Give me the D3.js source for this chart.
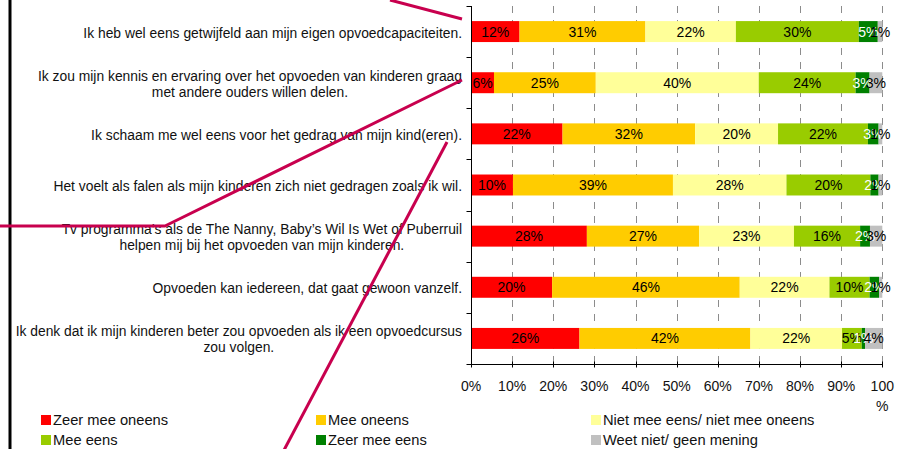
<!DOCTYPE html>
<html>
<head>
<meta charset="utf-8">
<script src="https://cdn.jsdelivr.net/npm/d3@7"></script>
<style>
  html, body { margin: 0; padding: 0; background: #fff; }
  svg { display: block; font-family: "Liberation Sans", Arial, sans-serif; }
</style>
</head>
<body>
<svg id="chart" width="902" height="449"></svg>
<script>
// ---------------- data ----------------
const categories = [
  "Ik heb wel eens getwijfeld aan mijn eigen opvoedcapaciteiten.",
  "Ik zou mijn kennis en ervaring over het opvoeden van kinderen graag\nmet andere ouders willen delen.",
  "Ik schaam me wel eens voor het gedrag van mijn kind(eren).",
  "Het voelt als falen als mijn kinderen zich niet gedragen zoals ik wil.",
  "Tv programma’s als de The Nanny, Baby’s Wil Is Wet of Puberruil\nhelpen mij bij het opvoeden van mijn kinderen.",
  "Opvoeden kan iedereen, dat gaat gewoon vanzelf.",
  "Ik denk dat ik mijn kinderen beter zou opvoeden als ik een opvoedcursus\nzou volgen."
];
const seriesNames = [
  "Zeer mee oneens", "Mee oneens", "Niet mee eens/ niet mee oneens",
  "Mee eens", "Zeer mee eens", "Weet niet/ geen mening"
];
const zeerMeeOneens = [11.8, 5.6, 22.3, 10.2, 28.2, 19.8, 26.4];
const meeOneens     = [30.6, 24.8, 32.3, 38.9, 27.3, 45.8, 41.6];
const neutraal      = [22.0, 39.7, 20.2, 27.6, 23.1, 21.9, 22.3];
const meeEens       = [29.9, 23.6, 21.9, 20.4, 16.1, 9.8, 4.8];
const zeerMeeEens   = [4.6, 3.4, 2.6, 2.0, 2.4, 2.3, 0.8];
const weetNiet      = [1.1, 3.1, 0.9, 0.9, 3.0, 0.8, 4.2];
const seriesColors = ["#FF0000", "#FFCC00", "#FFFF99", "#99CC00", "#008000", "#C0C0C0"];
const labelColors  = ["#000", "#000", "#000", "#000", "#fff", "#000"];
const tickValues = [0, 0.1, 0.2, 0.3, 0.4, 0.5, 0.6, 0.7, 0.8, 0.9, 1.0];
const tickLabels = ["0%", "10%", "20%", "30%", "40%", "50%", "60%", "70%", "80%", "90%", "100 %"];

// --------------- build ----------------
const seriesValues = [zeerMeeOneens, meeOneens, neutraal, meeEens, zeerMeeEens, weetNiet];
const keys = seriesNames;
const rows = categories.map((c, i) => {
  const r = { cat: c };
  keys.forEach((k, j) => r[k] = seriesValues[j][i]);
  return r;
});
const stacked = d3.stack().keys(keys).offset(d3.stackOffsetExpand)(rows);

const svg = d3.select("#chart");
const plot = { left: 471, right: 882.3, top: 6, bottom: 364 };

const x = d3.scaleLinear().domain([0, 1]).range([plot.left, plot.right]);
const y = d3.scaleBand().domain(categories).range([plot.top, plot.bottom])
  .paddingInner(0.59).paddingOuter(0.295);
const step = y.step();

// left decorative vertical rule
svg.append("line").attr("x1", 10).attr("x2", 10).attr("y1", 0).attr("y2", 449)
  .attr("stroke", "#000").attr("stroke-width", 3);

// gridlines
svg.append("g").selectAll("line").data(tickValues.slice(1)).join("line")
  .attr("x1", d => Math.round(x(d)) + 0.5).attr("x2", d => Math.round(x(d)) + 0.5)
  .attr("y1", plot.top).attr("y2", plot.bottom)
  .attr("stroke", "#8c8c8c").attr("stroke-width", 1).attr("stroke-dasharray", "7,7");

// bars
const gBars = svg.append("g");
stacked.forEach((s, j) => {
  gBars.append("g").attr("fill", seriesColors[j]).selectAll("rect").data(s).join("rect")
    .attr("x", d => x(d[0])).attr("width", d => x(d[1]) - x(d[0]))
    .attr("y", d => y(d.data.cat)).attr("height", y.bandwidth());
});

// bar labels
const gLab = svg.append("g").attr("font-size", 14).attr("text-anchor", "middle");
stacked.forEach((s, j) => {
  gLab.append("g").attr("fill", labelColors[j]).selectAll("text").data(s).join("text")
    .attr("x", d => (x(d[0]) + x(d[1])) / 2)
    .attr("y", d => y(d.data.cat) + y.bandwidth() / 2)
    .attr("dy", "0.36em")
    .text(d => Math.round(d.data[s.key]) + "%");
});

// y axis
const gy = svg.append("g").attr("transform", `translate(${plot.left + 0.5},0)`);
gy.append("line").attr("x1", 0).attr("x2", 0).attr("y1", plot.top).attr("y2", plot.bottom)
  .attr("stroke", "#000");
const boundaries = d3.range(categories.length + 1).map(i => plot.top + i * step);
gy.selectAll("line.tk").data(boundaries).join("line").attr("class", "tk")
  .attr("x1", -5).attr("x2", 0).attr("y1", d => Math.round(d) + 0.5).attr("y2", d => Math.round(d) + 0.5)
  .attr("stroke", "#000");

// category labels (right aligned block, lines centered)
const gCat = svg.append("g").attr("font-size", 13.85).attr("fill", "#111");
categories.forEach(c => {
  const lines = c.split("\n");
  const cy = y(c) + y.bandwidth() / 2 + 1;
  const t = gCat.append("text").attr("text-anchor", "middle");
  const lh = 16;
  lines.forEach((ln, i) => {
    t.append("tspan").attr("y", cy + (i - (lines.length - 1) / 2) * lh).attr("dy", "0.36em").text(ln);
  });
  let maxW = 0;
  t.selectAll("tspan").each(function () { maxW = Math.max(maxW, this.getComputedTextLength()); });
  const cx = 462 - maxW / 2;
  t.selectAll("tspan").attr("x", cx);
});

// x axis
const gx = svg.append("g").attr("transform", `translate(0,${plot.bottom + 0.5})`);
gx.append("line").attr("x1", plot.left).attr("x2", plot.right).attr("stroke", "#000");
gx.selectAll("line.tk").data(tickValues).join("line").attr("class", "tk")
  .attr("x1", d => Math.round(x(d)) + 0.5).attr("x2", d => Math.round(x(d)) + 0.5)
  .attr("y1", -3).attr("y2", 3).attr("stroke", "#000");
const gxl = gx.append("g").attr("font-size", 14).attr("fill", "#111").attr("text-anchor", "middle");
tickValues.forEach((v, i) => {
  const parts = tickLabels[i].split(" ");
  const t = gxl.append("text");
  parts.forEach((p, k) => t.append("tspan").attr("x", x(v)).attr("y", 21 + k * 20).attr("dy", "0.36em").text(p));
});

// legend
const legCols = [41, 316, 591];
const legRows = [420, 440];
const gLeg = svg.append("g").attr("font-size", 14.7).attr("fill", "#111");
seriesNames.forEach((n, i) => {
  const cx = legCols[i % 3], cy = legRows[Math.floor(i / 3)];
  gLeg.append("rect").attr("x", cx).attr("y", cy - 5).attr("width", 10).attr("height", 10)
    .attr("fill", seriesColors[i]);
  gLeg.append("text").attr("x", cx + 12).attr("y", cy).attr("dy", "0.36em").text(n);
});

// decorative crimson strokes (background artwork of the slide)
const deco = [
  [[390, 0], [462, 19]],
  [[0, 226], [165, 226], [462, 80]],
  [[447, 142], [283, 452]]
];
svg.append("g").selectAll("path").data(deco).join("path")
  .attr("d", d => d3.line()(d))
  .attr("fill", "none").attr("stroke", "#C8004E").attr("stroke-width", 3)
  .attr("stroke-linejoin", "round");
</script>
</body>
</html>
